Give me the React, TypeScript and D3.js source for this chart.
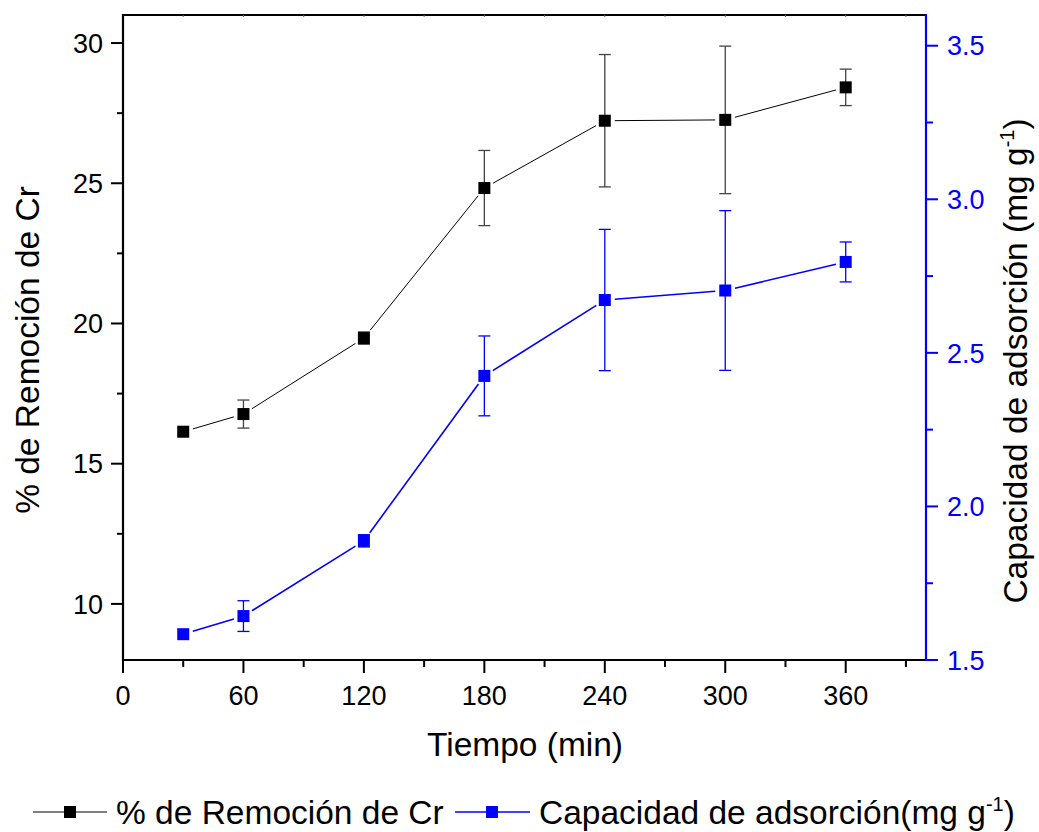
import React from "react";
import * as d3 from "d3";

const times = [30, 60, 120, 180, 240, 300, 360];
const removal = [16.14, 16.77, 19.48, 24.83, 27.23, 27.26, 28.42];
const removalErr = [0.0, 0.5, 0.22, 1.34, 2.36, 2.63, 0.65];
const capacity = [1.584, 1.643, 1.888, 2.425, 2.672, 2.703, 2.796];
const capacityErr = [0.0, 0.05, 0.02, 0.13, 0.23, 0.26, 0.065];

const xMajor = [0, 60, 120, 180, 240, 300, 360];
const xMinor = [30, 90, 150, 210, 270, 330, 390];
const yLMajor = [10, 15, 20, 25, 30];
const yLMinor = [12.5, 17.5, 22.5, 27.5];
const yRMajor = [1.5, 2.0, 2.5, 3.0, 3.5];
const yRMinor = [1.75, 2.25, 2.75, 3.25];

const L = 123, R = 926, T = 15, B = 660;
const BLUE = "#0000ff";
const FONT = "'Liberation Sans', Arial, sans-serif";
const TICK_FS = 27;
const TITLE_FS = 33.5;

export default function App() {
  const x = d3.scaleLinear().domain([0, 400]).range([L, R]);
  const yL = d3.scaleLinear().domain([8, 31]).range([B, T]);
  const yR = d3.scaleLinear().domain([1.5, 3.6]).range([B, T]);

  const segs = (ys: number[], sy: (v: number) => number) => {
    const out: JSX.Element[] = [];
    const gap = 10;
    for (let i = 0; i < times.length - 1; i++) {
      const x1 = x(times[i]), y1 = sy(ys[i]);
      const x2 = x(times[i + 1]), y2 = sy(ys[i + 1]);
      const len = Math.hypot(x2 - x1, y2 - y1);
      if (len <= 2 * gap) continue;
      const ux = (x2 - x1) / len, uy = (y2 - y1) / len;
      out.push(
        <line key={i} x1={x1 + ux * gap} y1={y1 + uy * gap} x2={x2 - ux * gap} y2={y2 - uy * gap} />
      );
    }
    return out;
  };

  const errs = (ys: number[], es: number[], sy: (v: number) => number) =>
    times.map((t, i) => {
      if (es[i] <= 0) return null;
      const cx = x(t);
      const yt = sy(ys[i] + es[i]);
      const yb = sy(ys[i] - es[i]);
      return (
        <g key={i}>
          <line x1={cx} x2={cx} y1={yt} y2={yb} />
          <line x1={cx - 6} x2={cx + 6} y1={yt} y2={yt} />
          <line x1={cx - 6} x2={cx + 6} y1={yb} y2={yb} />
        </g>
      );
    });

  const marks = (ys: number[], sy: (v: number) => number, fill: string) =>
    times.map((t, i) => (
      <rect key={i} x={x(t) - 6} y={sy(ys[i]) - 6} width={12} height={12} fill={fill} />
    ));

  return (
    <svg width={1039} height={832} style={{ display: "block", position: "absolute", left: 0, top: 0 }} fontFamily={FONT}>
      <rect width={1039} height={832} fill="#fff" />

      {/* error bars */}
      <g stroke="#444" strokeWidth={1.3}>{errs(removal, removalErr, yL)}</g>
      <g stroke={BLUE} strokeWidth={1.3}>{errs(capacity, capacityErr, yR)}</g>

      {/* lines */}
      <g stroke="#000" strokeWidth={1}>{segs(removal, yL)}</g>
      <g stroke={BLUE} strokeWidth={1.6}>{segs(capacity, yR)}</g>

      {/* markers */}
      {marks(removal, yL, "#000")}
      {marks(capacity, yR, BLUE)}

      {/* top axis */}
      <line x1={L} x2={R} y1={T} y2={T} stroke="#000" strokeWidth={2} />
      {xMajor.concat(xMinor).map((v) => (
        <line key={"t" + v} x1={x(v)} x2={x(v)} y1={T} y2={T + 2} stroke="#666" strokeWidth={1} />
      ))}

      {/* bottom axis */}
      <line x1={L - 1} x2={R} y1={B} y2={B} stroke="#000" strokeWidth={2.2} />
      {xMajor.map((v) => (
        <g key={"b" + v}>
          <line x1={x(v)} x2={x(v)} y1={B} y2={B + 13} stroke="#000" strokeWidth={2} />
          <text x={x(v)} y={705} fontSize={TICK_FS} textAnchor="middle" fill="#000">{v}</text>
        </g>
      ))}
      {xMinor.map((v) => (
        <line key={"bm" + v} x1={x(v)} x2={x(v)} y1={B} y2={B + 7} stroke="#000" strokeWidth={2} />
      ))}

      {/* left axis */}
      <line x1={L} x2={L} y1={T - 1} y2={B + 1} stroke="#000" strokeWidth={2.2} />
      {yLMajor.map((v) => (
        <g key={"l" + v}>
          <line x1={L - 12} x2={L} y1={yL(v)} y2={yL(v)} stroke="#000" strokeWidth={2} />
          <text x={103} y={yL(v)} dy="0.36em" fontSize={TICK_FS} textAnchor="end" fill="#000">{v}</text>
        </g>
      ))}
      {yLMinor.map((v) => (
        <line key={"lm" + v} x1={L - 6} x2={L} y1={yL(v)} y2={yL(v)} stroke="#000" strokeWidth={2} />
      ))}

      {/* right axis */}
      <line x1={R} x2={R} y1={T - 1} y2={B + 1} stroke={BLUE} strokeWidth={2.2} />
      {yRMajor.map((v) => (
        <g key={"r" + v}>
          <line x1={R} x2={R + 12} y1={yR(v)} y2={yR(v)} stroke={BLUE} strokeWidth={2} />
          <text x={947} y={yR(v)} dy="0.36em" fontSize={TICK_FS} textAnchor="start" fill={BLUE}>{v.toFixed(1)}</text>
        </g>
      ))}
      {yRMinor.map((v) => (
        <line key={"rm" + v} x1={R} x2={R + 7} y1={yR(v)} y2={yR(v)} stroke={BLUE} strokeWidth={2} />
      ))}

      {/* axis titles */}
      <text x={525} y={756} fontSize={TITLE_FS} textAnchor="middle" fill="#000">Tiempo (min)</text>
      <text transform={`translate(39,350) rotate(-90)`} fontSize={TITLE_FS} textAnchor="middle" fill="#000">% de Remoción de Cr</text>
      <text transform={`translate(1027,361) rotate(-90)`} fontSize={TITLE_FS} textAnchor="middle" fill="#000">
        Capacidad de adsorción (mg g<tspan dy="-13" fontSize={20}>-1</tspan><tspan dy="13">)</tspan>
      </text>

      {/* legend */}
      <g>
        <line x1={33} x2={107} y1={812} y2={812} stroke="#000" strokeWidth={1} />
        <rect x={64} y={806} width={12} height={12} fill="#000" />
        <text x={116} y={824} fontSize={TITLE_FS} fill="#000">% de Remoción de Cr</text>
        <line x1={455} x2={530} y1={812} y2={812} stroke={BLUE} strokeWidth={1.6} />
        <rect x={486} y={806} width={12} height={12} fill={BLUE} />
        <text x={539} y={824} fontSize={TITLE_FS} fill="#000">
          Capacidad de adsorción(mg g<tspan dy="-13" fontSize={20}>-1</tspan><tspan dy="13">)</tspan>
        </text>
      </g>
    </svg>
  );
}
